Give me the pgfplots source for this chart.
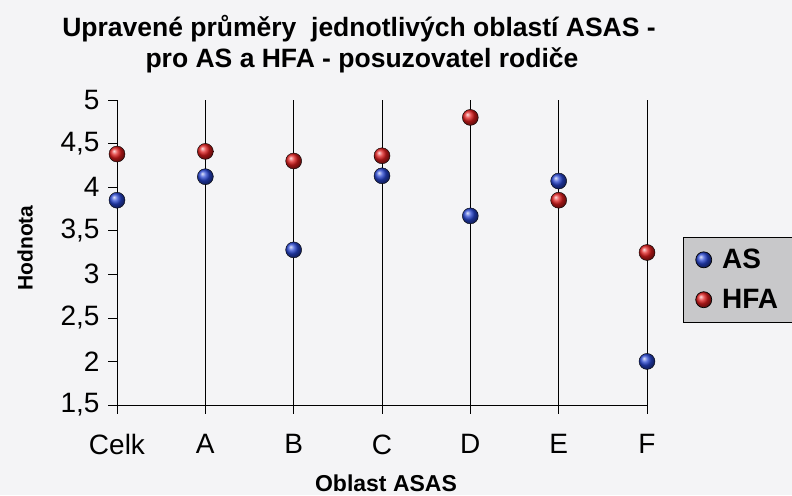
\documentclass[border=0pt]{standalone}
\usepackage{fontspec}
\setmainfont{Liberation Sans}
\usepackage{pgfplots}
\pgfplotsset{compat=1.18}
\definecolor{bgc}{RGB}{244,244,246}
\definecolor{asblue}{RGB}{40,70,210}
\definecolor{hfared}{RGB}{225,30,30}
\definecolor{legfill}{RGB}{200,200,202}
\pgfplotstableread{
x AS HFA
0 3.85 4.38
1 4.12 4.41
2 3.28 4.30
3 4.13 4.36
4 3.67 4.80
5 4.07 3.85
6 2.00 3.25
}\datatable
\begin{document}
\begin{tikzpicture}
\fill[bgc] (0,0) rectangle (792pt,495pt);
\path[use as bounding box] (0,0) rectangle (792pt,495pt);
\begin{axis}[
  at={(117pt,90pt)}, anchor=south west,
  scale only axis, width=530pt, height=305pt,
  xmin=0, xmax=6, ymin=1.5, ymax=5,
  axis x line*=bottom, axis y line*=left,
  axis line style={black, line width=0.7pt},
  xtick={0,...,6}, xticklabels={Celk,A,B,C,D,E,F},
  ytick={1.5,2,...,5},
  xmajorgrids, grid style={black, line width=0.6pt},
  tick align=outside, major tick length=9pt,
  tick style={black, line width=0.6pt},
  clip=false,
  /pgf/number format/assume math mode=true,
  /pgf/number format/fixed,
  /pgf/number format/use comma,
  /pgf/number format/precision=1,
  ticklabel style={font=\fontsize{28}{28}\selectfont},
  xticklabel style={yshift=-17pt},
  yticklabel style={xshift=-5pt},
  legend style={at={(1.068,0.551)}, anchor=north west, fill=legfill, draw=black,
    font=\fontsize{28}{30}\selectfont\bfseries, inner xsep=12pt, inner ysep=10pt,
    row sep=15pt, column sep=8pt, line width=0.7pt},
  legend cell align=left,
]
\addplot[only marks, mark=ball, mark size=8pt, ball color=asblue] table[x=x, y=AS] {\datatable};
\addlegendentry{AS}
\addplot[only marks, mark=ball, mark size=8pt, ball color=hfared] table[x=x, y=HFA] {\datatable};
\addlegendentry{HFA}
\end{axis}
\node[font=\fontsize{26.5}{27}\selectfont\bfseries, anchor=base] at (359pt,458pt) {Upravené průměry\ \ jednotlivých oblastí ASAS -};
\node[font=\fontsize{26.5}{27}\selectfont\bfseries, anchor=base] at (362pt,427pt) {pro AS a HFA - posuzovatel rodiče};
\node[font=\fontsize{23}{23}\selectfont\bfseries, anchor=base] at (386pt,4pt) {Oblast ASAS};
\node[font=\fontsize{21}{21}\selectfont\bfseries, rotate=90] at (25pt,247pt) {Hodnota};
\end{tikzpicture}
\end{document}
